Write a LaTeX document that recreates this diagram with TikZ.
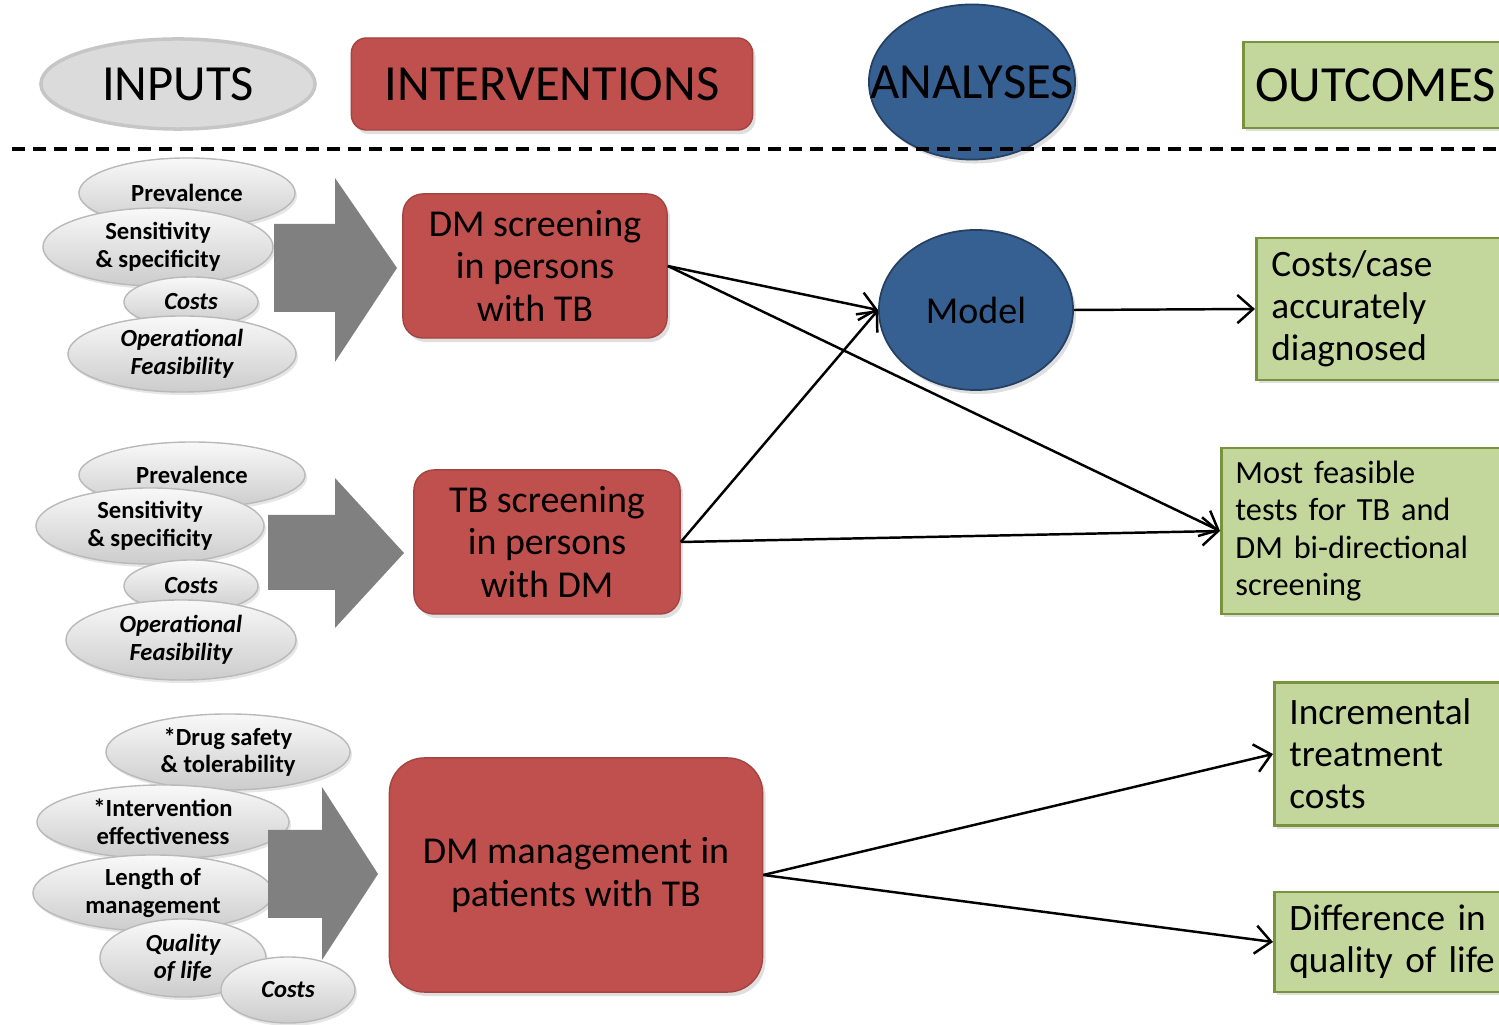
\documentclass[tikz,border=0pt]{standalone}
\usepackage{fontspec}
\setmainfont{Carlito}
\usetikzlibrary{shapes.geometric,shadows,arrows.meta}
\definecolor{intred}{HTML}{C0504D}
\definecolor{anblue}{HTML}{376092}
\definecolor{anborder}{HTML}{254061}
\definecolor{outgreen}{HTML}{C3D69B}
\definecolor{outborder}{HTML}{77933C}
\definecolor{arrowgray}{HTML}{808080}

\begin{document}
\begin{tikzpicture}[x=0.01cm,y=-0.01cm,
		head/.style={font=\fontsize{14.4}{16}\selectfont,inner sep=0pt},
		inp/.style={ellipse,draw=gray!55,line width=0.4pt,top color=gray!5,bottom color=gray!40,inner sep=0pt,align=center,font=\bfseries\fontsize{7}{7.8}\selectfont,drop shadow={shadow xshift=0.02cm,shadow yshift=-0.03cm,opacity=0.2}},
		inpit/.style={inp,font=\bfseries\itshape\fontsize{7}{7.8}\selectfont},
		interv/.style={rectangle,rounded corners=0.2cm,fill=intred,draw=intred!85!black,line width=0.4pt,align=center,font=\fontsize{10.8}{12}\selectfont,drop shadow={shadow xshift=0.03cm,shadow yshift=-0.04cm,opacity=0.25}},
		outc/.style={rectangle,fill=outgreen,draw=outborder,line width=0.8pt,align=left,inner xsep=0.15cm,font=\fontsize{10.6}{12}\selectfont,drop shadow={shadow xshift=0.03cm,shadow yshift=-0.03cm,opacity=0.25}},
		model/.style={ellipse,fill=anblue,draw=anborder,line width=0.5pt,inner sep=0pt,drop shadow={shadow xshift=0.03cm,shadow yshift=-0.04cm,opacity=0.25}},
		bigarrow/.style={fill=arrowgray},
		link/.style={line width=0.7pt,-{Straight Barb[length=4.5pt,width=8pt]}}]
		\useasboundingbox (0,0) rectangle (1499,1025);
		\clip (0,0) rectangle (1499,1025);
		% headers
		\node[ellipse,fill=gray!28,draw=gray!45,line width=1pt,minimum width=2.74cm,minimum height=0.9cm,head] (inputs) at (178,84) {INPUTS};
		\node[interv,rounded corners=0.15cm,minimum width=4.01cm,minimum height=0.92cm,head] (interventions) at (552,84) {INTERVENTIONS};
		\node[model,minimum width=2.06cm,minimum height=1.55cm] (analyses) at (972,82) {};
		\node[head] (analyseslabel) at (analyses) {ANALYSES};
		\node[outc,anchor=west,minimum width=2.64cm,minimum height=0.86cm,align=center,head,inner xsep=0pt] (outcomes) at (1242,85) {OUTCOMES};
		\draw[line width=1pt,dash pattern=on 0.13cm off 0.08cm] (12,149) -- (1499,149);
		% first row
		\node[inp,minimum width=2.16cm,minimum height=0.7cm] (prevA) at (187,193) {Prevalence};
		\node[inp,minimum width=2.3cm,minimum height=0.78cm] (sensA) at (158,247) {Sensitivity\\ \& specificity};
		\node[inpit,minimum width=1.34cm,minimum height=0.5cm] (costsA) at (191,302) {Costs};
		\node[inpit,minimum width=2.28cm,minimum height=0.76cm] (operA) at (182,354) {Operational\\ Feasibility};
		\fill[bigarrow] (274,224) -- (335,224) -- (335,178) -- (397,268) -- (335,362) -- (335,312) -- (274,312) -- cycle;
		\node[interv,minimum width=2.64cm,minimum height=1.44cm] (dmscreen) at (535,266) {DM screening\\ in persons\\ with TB};
		% second row
		\node[inp,minimum width=2.26cm,minimum height=0.66cm] (prevB) at (192,475) {Prevalence};
		\node[inp,minimum width=2.28cm,minimum height=0.76cm] (sensB) at (150,526) {Sensitivity\\ \& specificity};
		\node[inpit,minimum width=1.34cm,minimum height=0.52cm] (costsB) at (191,586) {Costs};
		\node[inpit,minimum width=2.3cm,minimum height=0.8cm] (operB) at (181,640) {Operational\\ Feasibility};
		\fill[bigarrow] (268,515) -- (335,515) -- (335,478) -- (404,553) -- (335,628) -- (335,590) -- (268,590) -- cycle;
		\node[interv,minimum width=2.66cm,minimum height=1.44cm] (tbscreen) at (547,542) {TB screening\\ in persons\\ with DM};
		% third row
		\node[inp,minimum width=2.44cm,minimum height=0.76cm] (drug) at (228,752) {*Drug safety\\ \& tolerability};
		\node[inp,minimum width=2.52cm,minimum height=0.74cm] (effect) at (163,822) {*Intervention\\ effectiveness};
		\node[inp,minimum width=2.4cm,minimum height=0.76cm] (length) at (153,893) {Length of\\ management};
		\node[inpit,minimum width=1.66cm,minimum height=0.78cm] (quality) at (183,958) {Quality\\ of life};
		\node[inpit,minimum width=1.34cm,minimum height=0.66cm] (costsC) at (288,990) {Costs};
		\fill[bigarrow] (268,830) -- (322,830) -- (322,787) -- (378,874) -- (322,960) -- (322,918) -- (268,918) -- cycle;
		\node[interv,rounded corners=0.35cm,minimum width=3.73cm,minimum height=2.34cm] (dmmanage) at (576,875) {DM management in\\ patients with TB};
		% analyses and outcomes
		\node[model,minimum width=1.94cm,minimum height=1.6cm,font=\fontsize{10.8}{12}\selectfont] (model) at (976,310) {Model};
		\node[outc,anchor=west,minimum height=1.42cm,text width=2.4cm] (costcase) at (1255,309) {Costs/case\\ accurately\\ diagnosed};
		\node[outc,anchor=west,minimum height=1.66cm,text width=2.75cm,inner xsep=0.14cm,font=\fontsize{9.2}{10.7}\selectfont] (feasible) at (1220,531) {Most feasible\\ tests for TB and\\ DM bi-directional\\ screening};
		\node[outc,anchor=west,minimum height=1.43cm,text width=2.3cm] (incremental) at (1273,754) {Incremental\\ treatment\\ costs};
		\node[outc,anchor=west,minimum height=1.0cm,text width=2.3cm] (difference) at (1273,942) {Difference in\\ quality of life};
		% connectors
		\draw[link] (dmscreen.east) -- (model.west);
		\draw[link] (dmscreen.east) -- (feasible.west);
		\draw[link] (tbscreen.east) -- (model.west);
		\draw[link] (tbscreen.east) -- (feasible.west);
		\draw[link] (model.east) -- (costcase.west);
		\draw[link] (dmmanage.east) -- (incremental.west);
		\draw[link] (dmmanage.east) -- (difference.west);
	\end{tikzpicture}
\end{document}
